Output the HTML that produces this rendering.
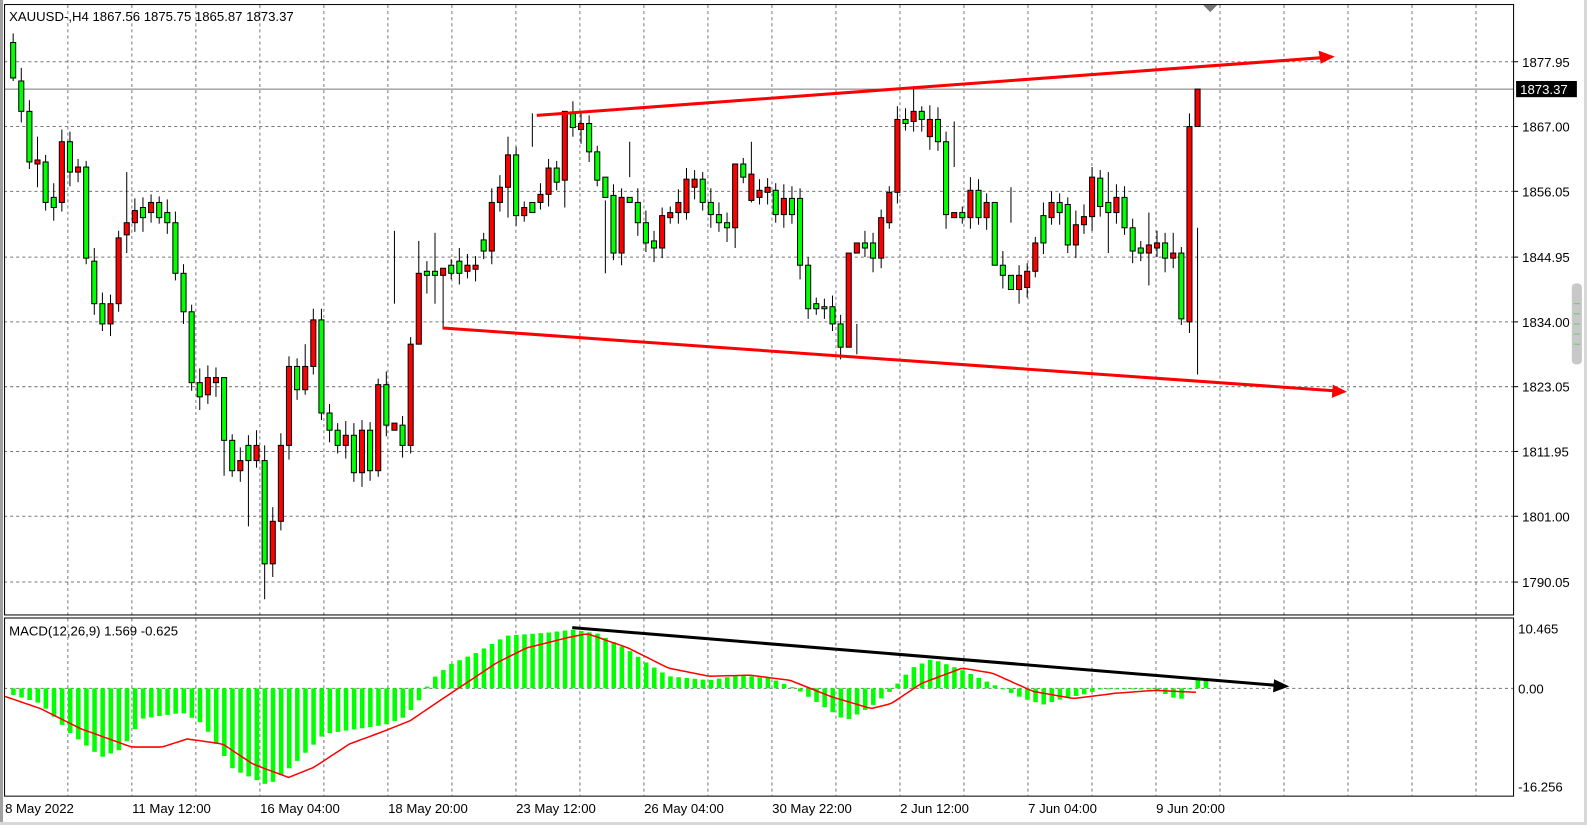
<!DOCTYPE html>
<html><head><meta charset="utf-8"><style>
html,body{margin:0;padding:0;background:#fff;overflow:hidden}
svg{display:block}
text{font-family:"Liberation Sans",sans-serif;font-size:13px;fill:#000}
</style></head><body>
<svg id="s" width="1587" height="825" viewBox="0 0 1567 815" preserveAspectRatio="none" xmlns="http://www.w3.org/2000/svg">
<rect x="0" y="0" width="1567" height="815" fill="#fff"/>
<rect x="1564" y="0" width="3" height="815" fill="#d8d8d8"/>
<rect x="0" y="812" width="1567" height="3" fill="#d8d8d8"/>
<rect x="0" y="0" width="3" height="812" fill="#a0a0a0"/>
<g id="grid"></g>
<line x1="4" y1="88" x2="1495" y2="88" stroke="#777" stroke-width="1"/>
<g id="candles"></g>
<g id="macd"></g>
<rect x="4.5" y="4.5" width="1490" height="603" fill="none" stroke="#000"/>
<rect x="4.5" y="610.5" width="1490" height="176" fill="none" stroke="#000"/>
<g id="lab"></g>
<text x="9" y="21">XAUUSD-,H4  1867.56 1875.75 1865.87 1873.37</text>
<text x="9" y="628">MACD(12,26,9) 1.569 -0.625</text>
<rect x="1497" y="80" width="60" height="16" fill="#000"/>
<text x="1501" y="93" style="fill:#fff">1873.37</text>
<polygon points="1188,5 1202,5 1195,12" fill="#777"/>
<rect x="1552" y="280" width="10" height="80" rx="4" fill="#c8c8c8"/>
<g stroke="#6c6" stroke-width="1"><line x1="1554" y1="300" x2="1560" y2="300"/><line x1="1554" y1="310" x2="1560" y2="310"/><line x1="1554" y1="320" x2="1560" y2="320"/><line x1="1554" y1="330" x2="1560" y2="330"/><line x1="1554" y1="340" x2="1560" y2="340"/></g>
<line x1="530" y1="114" x2="1305" y2="57" stroke="#f00" stroke-width="3"/>
<polygon points="1318,56 1302,50 1304,63" fill="#f00"/>
<line x1="437" y1="324" x2="1317" y2="386" stroke="#f00" stroke-width="3"/>
<polygon points="1330,387 1316,380 1315,393" fill="#f00"/>
<line x1="565" y1="620" x2="1260" y2="677" stroke="#000" stroke-width="3"/>
<polygon points="1273,678 1258,671 1257,684" fill="#000"/>
</svg>
<script>
const NS="http://www.w3.org/2000/svg";
function el(p,t,a,txt){const e=document.createElementNS(NS,t);for(const k in a)e.setAttribute(k,a[k]);if(txt)e.textContent=txt;p.appendChild(e);return e;}
const G=document.getElementById('grid'),C=document.getElementById('candles'),M=document.getElementById('macd'),L=document.getElementById('lab');
const hy=[61,125,189,254,318,382,446,510,575],hl=["1877.95","1867.00","1856.05","1844.95","1834.00","1823.05","1811.95","1801.00","1790.05"];
hy.forEach((y,i)=>{el(G,'line',{x1:4,y1:y,x2:1495,y2:y,stroke:'#777','stroke-dasharray':'3,3'});el(L,'line',{x1:1495,y1:y,x2:1499,y2:y,stroke:'#000'});el(L,'text',{x:1503,y:y+5},hl[i]);});
for(let x=67;x<1495;x+=63.2){el(G,'line',{x1:x,y1:5,x2:x,y2:608,stroke:'#777','stroke-dasharray':'3,3'});el(G,'line',{x1:x,y1:611,x2:x,y2:786,stroke:'#777','stroke-dasharray':'3,3'});}
el(G,'line',{x1:4,y1:680,x2:1495,y2:680,stroke:'#777','stroke-dasharray':'3,3'});
[[621,"10.465"],[680,"0.00"],[777,"-16.256"]].forEach(a=>el(L,'text',{x:1499,y:a[0]+5},a[1]));
const xl=["8 May 2022","11 May 12:00","16 May 04:00","18 May 20:00","23 May 12:00","26 May 04:00","30 May 22:00","2 Jun 12:00","7 Jun 04:00","9 Jun 20:00"];
xl.forEach((t,i)=>el(L,'text',{x:i==0?5:4+126.4*i,y:803},t));
const d="42,77,g;80,110,g;110,160,g;158,162,r;160,200,g;195,205,g;140,200,r;140,170,g;165,170,r;165,255,g;258,300,g;300,320,g;300,320,r;235,300,r;220,232,r;208,220,r;205,215,g;200,210,r;200,215,g;210,220,g;220,270,g;270,308,g;308,378,g;378,392,g;373,390,r;373,378,r;373,435,g;435,465,g;455,465,r;440,455,g;440,455,r;455,557,g;515,557,r;440,515,r;362,440,r;362,385,g;362,385,r;316,362,r;316,408,g;408,425,g;425,440,g;430,440,r;430,467,g;425,467,r;425,465,g;380,465,r;380,420,g;418,425,r;420,440,g;340,440,r;270,340,r;268,272,g;268,272,g;265,272,r;262,270,g;258,270,g;262,268,r;262,266,r;237,248,g;200,248,r;185,200,r;153,185,r;153,213,g;205,213,r;200,210,g;192,200,r;166,192,r;166,180,g;110,178,r;112,126,g;122,128,r;122,150,g;150,178,g;175,195,g;193,250,g;195,250,r;195,200,g;200,220,g;220,240,g;238,245,g;213,245,r;210,215,r;200,210,r;177,210,r;177,185,r;177,200,g;200,212,g;212,220,g;220,225,g;162,225,r;162,175,g;172,198,r;188,195,r;185,190,r;188,212,g;196,212,r;196,212,g;196,262,g;262,305,g;300,305,g;303,305,g;303,320,g;320,343,g;250,343,r;240,250,r;240,245,g;240,255,g;215,255,r;190,220,r;118,190,r;118,122,g;110,120,r;110,118,g;118,135,r;118,140,g;140,212,g;210,215,r;210,215,g;188,215,r;188,215,g;200,215,r;200,262,g;262,272,g;272,286,g;272,286,r;268,284,r;240,268,r;213,240,g;200,215,r;200,210,g;202,242,g;222,242,r;214,222,r;175,214,r;176,204,g;200,210,g;195,210,r;195,225,g;225,248,g;245,250,g;242,250,r;240,245,r;240,255,g;250,255,r;250,315,g;125,318,r;88,125,r".split(';');
const wk={0:[33,80],3:[135,185],14:[170,250],26:[380,470],29:[430,520],30:[425,462],31:[440,592],36:[340,390],37:[305,370],47:[228,300],50:[238,270],51:[258,290],52:[230,300],53:[265,325],61:[135,215],64:[112,145],68:[160,205],73:[198,270],76:[140,175],89:[200,245],91:[140,200],100:[295,315],103:[275,330],104:[320,350],111:[85,130],112:[105,130],116:[120,165],121:[205,235],123:[185,220],135:[170,250],140:[210,282],143:[230,265],146:[225,370],147:[74,130]};
const SP=8.01;
d.forEach((s,i)=>{const [a,b,c]=s.split(',');let t=+a,bo=+b;const x=13+SP*i;let w=wk[i]||[t-6-((i*7)%9),bo+6+((i*5)%9)];
el(C,'line',{x1:x,y1:w[0],x2:x,y2:w[1],stroke:'#000'});
el(C,'rect',{x:x-2.5,y:t,width:5,height:Math.max(1,bo-t),fill:c=='g'?'#00ff00':'#ff0000',stroke:'#000','stroke-width':1});});
function interp(pts,x){for(let i=0;i<pts.length-1;i++){if(x<=pts[i+1][0]){const [x0,y0]=pts[i],[x1,y1]=pts[i+1];return y0+(y1-y0)*(x-x0)/(x1-x0);}}return pts[pts.length-1][1];}
const hp=[[5,684],[40,695],[70,725],[100,748],[120,740],[140,710],[180,704],[200,715],[230,760],[265,776],[290,755],[320,725],[380,716],[400,708],[415,690],[425,672],[445,656],[470,645],[500,628],[540,625],[565,622],[590,626],[620,642],[640,656],[660,668],[700,672],[730,667],[760,670],[785,680],[810,696],[835,712],[860,698],[880,682],[900,660],[920,651],[950,662],[980,676],[1010,690],[1030,696],[1050,690],[1070,686],[1090,680],[1140,681],[1165,692],[1183,670]];
const sp=[[5,688],[40,700],[80,720],[130,738],[160,738],[185,730],[220,735],[250,755],[285,768],[310,758],[345,735],[380,722],[405,712],[430,695],[460,675],[490,655],[520,640],[560,630],[580,626],[620,640],[660,660],[700,668],[740,667],[780,672],[820,688],[860,700],[880,695],[910,675],[950,660],[980,665],[1020,683],[1060,690],[1100,685],[1140,682],[1183,684]];
for(let i=0;i<148;i++){const x=13+SP*i;const y=interp(hp,x);el(M,'rect',{x:x-2,y:Math.min(y,680),width:4.5,height:Math.max(1,Math.abs(y-680)),fill:'#00ff00'});}
let pd="";for(let x=5;x<=1183;x+=4){pd+=(x==5?"M":"L")+x+","+interp(sp,x).toFixed(1);}
el(M,'path',{d:pd,fill:'none',stroke:'#f00','stroke-width':1.5});
</script>
</body></html>
